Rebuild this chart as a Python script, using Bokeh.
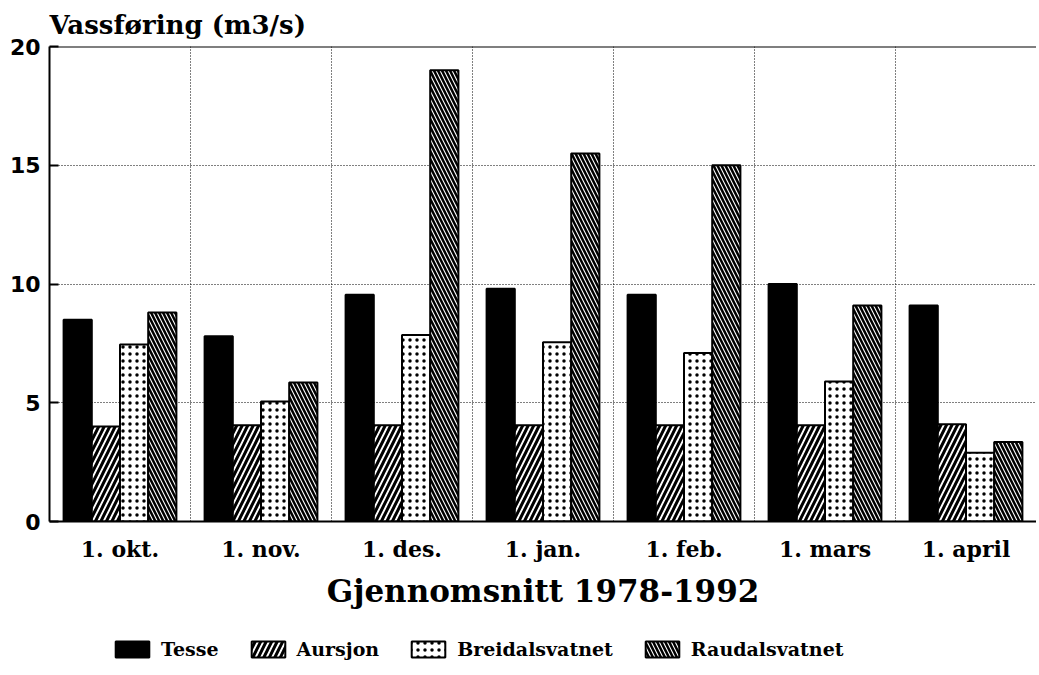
from bokeh.plotting import figure
from bokeh.models import Range1d, FixedTicker, Grid, Span, Legend, LegendItem, ColumnDataSource
from bokeh.layouts import column
from bokeh.embed import file_html
from bokeh.resources import INLINE
import numpy as np

categories = ["1. okt.", "1. nov.", "1. des.", "1. jan.", "1. feb.", "1. mars", "1. april"]
series = ["Tesse", "Aursjon", "Breidalsvatnet", "Raudalsvatnet"]
tesse = [8.5, 7.8, 9.55, 9.8, 9.55, 10.0, 9.1]
aursjon = [4.0, 4.05, 4.05, 4.05, 4.05, 4.05, 4.1]
breidalsvatnet = [7.45, 5.05, 7.85, 7.55, 7.1, 5.9, 2.9]
raudalsvatnet = [8.8, 5.85, 19.0, 15.5, 15.0, 9.1, 3.35]
y_ticks = [0, 5, 10, 15, 20]

SERIF = "DejaVu Serif"

p = figure(width=1036, height=628, output_backend="svg", toolbar_location=None,
           x_range=Range1d(0, len(categories)), y_range=Range1d(0, 20),
           min_border_left=49, min_border_right=0, min_border_top=46, min_border_bottom=107)
p.outline_line_color = None
p.background_fill_color = "white"
p.border_fill_color = "white"

p.title.text = "Vassføring (m3/s)"
p.title.text_font = SERIF
p.title.text_font_size = "26px"
p.title.text_font_style = "bold"
p.title.text_color = "black"
p.title.align = "left"
p.title.standoff = 13
p.title.offset = 0

centers = np.arange(len(categories)) + 0.5
offsets = [-0.3, -0.1, 0.1, 0.3]
values = [tesse, aursjon, breidalsvatnet, raudalsvatnet]
styles = [
    dict(fill_color="black"),
    dict(fill_color="white", hatch_pattern="/", hatch_scale=11, hatch_weight=3.0, hatch_color="black"),
    dict(fill_color="white", hatch_pattern=".", hatch_scale=7, hatch_weight=0.5, hatch_color="black"),
    dict(fill_color="white", hatch_pattern="\\", hatch_scale=8, hatch_weight=2.5, hatch_color="black"),
]
for name, vals, off, st in zip(series, values, offsets, styles):
    src = ColumnDataSource(dict(x=centers + off, top=vals))
    p.vbar(x="x", top="top", width=0.2, bottom=0, source=src,
           line_color="black", line_width=2, **st)

# grids
p.xgrid.visible = False
p.ygrid.ticker = FixedTicker(ticks=[5, 10, 15])
p.ygrid.grid_line_color = "black"
p.ygrid.grid_line_dash = "1 2"
p.ygrid.grid_line_width = 1
vgrid = Grid(dimension=0, ticker=FixedTicker(ticks=list(range(1, len(categories)))),
             grid_line_color="black", grid_line_dash="1 2", grid_line_width=1)
p.add_layout(vgrid)
p.add_layout(Span(location=20, dimension="width", line_color="black", line_width=2))

# x axis
xa = p.xaxis[0]
xa.ticker = FixedTicker(ticks=list(centers))
xa.major_label_overrides = {float(c): lab for c, lab in zip(centers, categories)}
xa.major_tick_line_color = None
xa.minor_tick_line_color = None
xa.axis_line_width = 2
xa.axis_line_color = "black"
xa.major_label_text_font = SERIF
xa.major_label_text_font_size = "22px"
xa.major_label_text_font_style = "bold"
xa.major_label_text_color = "black"
xa.major_label_standoff = 8
xa.axis_label = "Gjennomsnitt 1978-1992"
xa.axis_label_text_font = SERIF
xa.axis_label_text_font_size = "31px"
xa.axis_label_text_font_style = "bold"
xa.axis_label_text_color = "black"
xa.axis_label_standoff = 8

# y axis
ya = p.yaxis[0]
ya.ticker = FixedTicker(ticks=y_ticks)
ya.axis_line_width = 2
ya.axis_line_color = "black"
ya.major_tick_in = 9
ya.major_tick_out = 0
ya.major_tick_line_width = 2
ya.minor_tick_line_color = None
ya.major_label_text_font = "DejaVu Sans"
ya.major_label_text_font_size = "22px"
ya.major_label_text_font_style = "bold"
ya.major_label_text_color = "black"
ya.major_label_standoff = 9

# legend row (separate strip below the chart)
lf = figure(width=1036, height=42, output_backend="svg", toolbar_location=None,
            x_range=Range1d(0, 1), y_range=Range1d(0, 1),
            min_border=0, min_border_left=0, min_border_right=0, min_border_top=0, min_border_bottom=0)
lf.axis.visible = False
lf.grid.visible = False
lf.outline_line_color = None
items = []
for name, st in zip(series, styles):
    # hidden proxy glyph, only used to draw the legend swatch
    r = lf.vbar(x="x", top="top", width=0.1, source=ColumnDataSource(dict(x=[0.5], top=[1.0])),
                line_color="black", line_width=2, visible=False, **st)
    items.append(LegendItem(label=name, renderers=[r]))
legend = Legend(items=items, orientation="horizontal", location=(62, 10),
                glyph_width=42, glyph_height=20, label_standoff=8, spacing=28,
                label_text_font=SERIF, label_text_font_size="19px", label_text_font_style="bold",
                label_text_color="black", label_height=20,
                inactive_fill_alpha=0.0,
                border_line_color=None, background_fill_alpha=0, margin=0, padding=0)
lf.add_layout(legend)

open("out.html", "w").write(file_html(column(p, lf, spacing=0), INLINE))
